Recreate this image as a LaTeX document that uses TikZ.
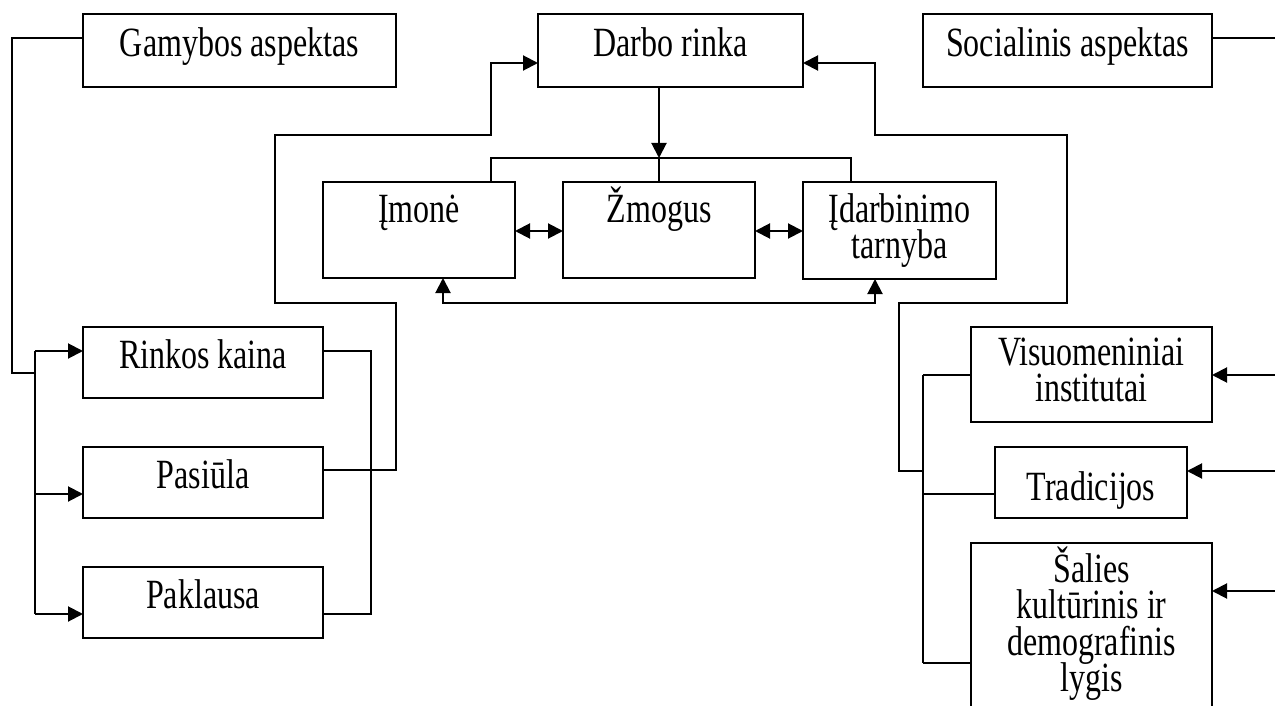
\documentclass[tikz,border=0pt]{standalone}
\usepackage{fontspec}
\usepackage{graphicx}
\setmainfont{Liberation Serif}
\usetikzlibrary{arrows.meta}
% tall lettering used throughout the chart
\newcommand{\tall}[1]{\scalebox{1}[1.3]{#1}}
% centred lines set close together, baseline at the first line
\newcommand{\lines}[1]{\scalebox{1}[1.3]{\vtop{\baselineskip=14.1pt\lineskiplimit=-100pt\lineskip=0pt
  \halign{\hfil##\hfil\cr#1\crcr}}}}

\begin{document}
\begin{tikzpicture}[x=0.5pt, y=-0.5pt,
  line width=1pt,
  box/.style={draw, rectangle, inner sep=0pt, outer sep=0pt, anchor=north west},
  txt/.style={anchor=base, inner sep=0pt, font=\fontsize{16pt}{18pt}\selectfont},
  arr/.style={-{Triangle[length=7.5pt,width=7.5pt]}},
  darr/.style={{Triangle[length=7.5pt,width=7.5pt]}-{Triangle[length=7.5pt,width=7.5pt]}}]
\clip (0,0) rectangle (1275,706);

% boxes
\node[box, minimum width=156.5pt, minimum height=36.5pt] (gam) at (83,14) {};
\node[box, minimum width=132.5pt, minimum height=36.5pt] (darbo) at (538,14) {};
\node[box, minimum width=144.5pt, minimum height=36.5pt] (soc) at (923,14) {};
\node[box, minimum width=96pt, minimum height=48pt] (imone) at (323,182) {};
\node[box, minimum width=96pt, minimum height=48pt] (zmogus) at (563,182) {};
\node[box, minimum width=96.5pt, minimum height=48.5pt] (idarb) at (803,182) {};
\node[box, minimum width=120pt, minimum height=35.5pt] (rinkos) at (83,327) {};
\node[box, minimum width=120pt, minimum height=35.5pt] (pasiula) at (83,447) {};
\node[box, minimum width=120pt, minimum height=35.5pt] (paklausa) at (83,567) {};
\node[box, minimum width=120.5pt, minimum height=47.5pt] (visuo) at (971,327) {};
\node[box, minimum width=96pt, minimum height=35.5pt] (trad) at (995,447) {};
\node[box, minimum width=120.5pt, minimum height=100pt] (salies) at (971,543) {};

% texts
\node[txt] (gamT) at (239.5,57) {\tall{Gamybos aspektas}};
\node[txt] (darboT) at (670.5,57) {\tall{Darbo rinka}};
\node[txt] (socT) at (1067.5,57) {\tall{Socialinis aspektas}};
\node[txt] (imoneT) at (419,222) {\tall{Įmonė}};
\node[txt] (zmogusT) at (659,222) {\tall{Žmogus}};
\node[txt] (idarbT) at (899.5,222) {\lines{Įdarbinimo\cr tarnyba}};
\node[txt] (rinkosT) at (203,368) {\tall{Rinkos kaina}};
\node[txt] (pasiulaT) at (203,488) {\tall{Pasiūla}};
\node[txt] (paklausaT) at (203,608) {\tall{Paklausa}};
\node[txt] (visuoT) at (1091.5,365) {\lines{Visuomeniniai\cr institutai}};
\node[txt] (tradT) at (1091,500) {\tall{Tradicijos}};
\node[txt] (saliesT) at (1091.5,582) {\lines{Šalies\cr kultūrinis ir\cr demografinis\cr lygis}};

% left side: production aspect feeding the three market boxes
\coordinate (lb1) at (35,351);
\coordinate (lb2) at (35,494);
\coordinate (lb3) at (35,614);
\coordinate (lbj) at (35,373);
\draw (lb1) -- (lb3);
\draw ([yshift=-12pt]gam.north west) -| (12,373) -- (lbj);
\draw[arr] (lb1) -- (lb1 -| rinkos.west);
\draw[arr] (lb2) -- (lb2 -| pasiula.west);
\draw[arr] (lb3) -- (lb3 -| paklausa.west);
\draw ([yshift=-12pt]rinkos.north east) -- (371,351) -- (371,614) -- ([yshift=-23.5pt]paklausa.north east);
\draw[arr] ([yshift=-11.5pt]pasiula.north east) -- (396,470) -- (396,303) -- (275,303)
  -- (275,135) -- (491,135) -- (491,63) -- ([yshift=-24.5pt]darbo.north west);

% centre: labour market and its participants
\coordinate (hub) at (zmogus.north |- 0,158);
\draw[arr] (hub |- darbo.south) -- (hub);
\draw ([xshift=36pt]imone.north) |- (hub) -| ([xshift=-24.25pt]idarb.north);
\draw (hub) -- (zmogus.north);
\draw[darr] ([yshift=-24.5pt]imone.north east) -- ([yshift=-24.5pt]zmogus.north west);
\draw[darr] ([yshift=-24.5pt]zmogus.north east) -- ([yshift=-24.5pt]idarb.north west);
\draw[darr] ([xshift=12pt]imone.south) -- ++(0,25) -| ([xshift=-12.25pt]idarb.south);

% right side: social aspect
\coordinate (socEnd) at (1275,38);
\draw ([yshift=-12pt]soc.north east) -- (socEnd);
\coordinate (rb1) at (923,375);
\coordinate (rbj) at (923,471);
\coordinate (rb2) at (923,494);
\coordinate (rb3) at (923,663);
\draw (rb1) -- (rb3);
\draw (rb1) -- (rb1 -| visuo.west);
\draw (rb2) -- (rb2 -| trad.west);
\draw (rb3) -- (rb3 -| salies.west);
\draw[arr] (rbj) -- (899,471) -- (899,303) -- (1067,303) -- (1067,135) -- (875,135)
  -- (875,63) -- ([yshift=-24.5pt]darbo.north east);
\coordinate (e1) at (1275,375);
\coordinate (e2) at (1275,471);
\coordinate (e3) at (1275,591);
\draw[arr] (e1) -- (e1 -| visuo.east);
\draw[arr] (e2) -- (e2 -| trad.east);
\draw[arr] (e3) -- (e3 -| salies.east);
\end{tikzpicture}
\end{document}
